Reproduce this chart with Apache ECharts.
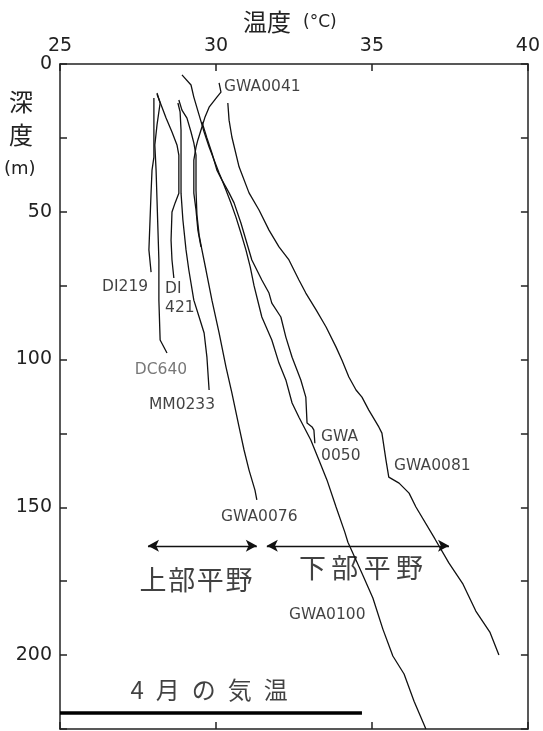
<!DOCTYPE html>
<html>
<head>
<meta charset="utf-8">
<script src="https://cdn.jsdelivr.net/npm/echarts@6/dist/echarts.min.js"></script>
<style>
  html, body { margin: 0; padding: 0; background: #fff; }
  #chart { width: 543px; height: 731px; }
</style>
</head>
<body>
<div id="chart"></div>
<script>
// Well temperature profiles: [temperature °C, depth m]
const GWA0041 = [[30.10,6.4],[30.16,9.5],[30.03,11.2],[29.78,14.6],[29.65,17.9],[29.55,21.3],[29.42,25.7],[29.36,28.1],[29.29,32.5],[29.29,43.7],[29.36,49.4],[29.42,56.2],[29.52,61.9]];
const GWA0076 = [[28.81,12.2],[28.91,15.6],[29.07,18.3],[29.20,23.0],[29.29,26.7],[29.36,30.8],[29.36,42.6],[29.39,51.1],[29.46,57.9],[29.55,62.9],[29.68,69.7],[29.87,79.9],[30.10,91.0],[30.32,102.5],[30.51,111.3],[30.74,122.8],[30.90,130.6],[31.06,137.4],[31.25,144.2],[31.31,147.5]];
const GWA0050 = [[29.55,19.6],[29.71,25.0],[29.87,30.1],[30.03,35.9],[30.19,39.2],[30.42,43.6],[30.58,47.0],[30.80,53.8],[31.15,66.3],[31.47,73.1],[31.70,77.5],[31.79,80.9],[32.08,85.6],[32.24,92.4],[32.44,99.2],[32.72,106.9],[32.88,112.7],[32.92,121.5],[33.08,122.8],[33.14,123.9],[33.17,128.3]];
const GWA0100 = [[28.91,3.7],[29.20,7.1],[29.29,11.2],[29.46,17.3],[29.62,23.0],[29.78,28.1],[29.94,32.5],[30.10,36.9],[30.19,39.2],[30.32,42.6],[30.48,47.0],[30.64,51.8],[30.80,57.2],[30.96,62.9],[31.10,68.7],[31.22,75.0],[31.47,85.6],[31.79,93.4],[32.02,101.2],[32.24,106.9],[32.44,114.7],[32.66,119.5],[33.04,127.2],[33.30,134.0],[33.56,140.8],[33.85,149.9],[34.13,158.4],[34.23,161.8],[34.68,172.3],[35.03,180.7],[35.35,191.2],[35.67,200.3],[36.03,206.4],[36.35,215.6],[36.73,225.0]];
const GWA0081 = [[30.38,13.2],[30.42,19.0],[30.51,24.7],[30.74,34.8],[31.06,43.6],[31.38,49.4],[31.70,56.2],[32.02,61.9],[32.34,66.3],[32.66,73.1],[32.88,77.5],[33.21,83.2],[33.53,89.0],[33.85,95.8],[34.04,100.2],[34.26,105.9],[34.49,110.3],[34.68,112.7],[34.90,117.1],[35.22,122.8],[35.32,124.9],[35.45,134.0],[35.54,139.8],[35.87,141.8],[36.19,145.2],[36.41,149.9],[37.02,160.7],[37.47,168.9],[37.92,176.0],[38.33,185.1],[38.78,192.2],[39.07,200.0]];
const MM0233 = [[28.78,13.2],[28.85,16.2],[28.88,22.3],[28.88,43.7],[28.94,52.8],[29.04,62.9],[29.13,69.7],[29.29,79.9],[29.46,85.6],[29.62,91.0],[29.71,99.2],[29.78,110.3]];
const DI421  = [[28.11,10.2],[28.27,14.6],[28.40,18.3],[28.59,23.0],[28.75,27.4],[28.81,30.8],[28.81,43.7],[28.69,47.0],[28.59,50.1],[28.56,59.6],[28.59,66.3],[28.65,72.4]];
const DC640  = [[28.11,9.8],[28.21,13.2],[28.11,20.6],[28.04,27.4],[28.08,35.9],[28.11,46.0],[28.14,56.2],[28.17,66.3],[28.17,79.9],[28.21,93.4],[28.43,97.8]];
const DI219  = [[28.01,11.5],[28.01,31.5],[27.95,35.9],[27.92,43.3],[27.85,62.9],[27.92,70.4]];

const profileNames = ['GWA0041','GWA0076','GWA0050','GWA0100','GWA0081','MM0233','DI421','DC640','DI219'];
const profiles = [GWA0041, GWA0076, GWA0050, GWA0100, GWA0081, MM0233, DI421, DC640, DI219];

// Annotation texts and where they sit: [temperature, depth]
const noteTexts = ['GWA0041','DI219','DI\n421','DC640','MM0233','GWA\n0050','GWA0081','GWA0076','GWA0100'];
const notePos   = [[30.26,7.8],[26.35,75.5],[28.37,79.5],[27.40,103.6],[27.85,115.4],[33.37,129.3],[35.71,136.0],[30.16,153.3],[32.34,186.5]];
const noteColors = ['#111','#111','#111','#555','#111','#111','#111','#111','#111'];

// Aquifer ranges (arrows) at depth 163 m
const arrowDepth = 163;
const upperRange = [27.82, 31.31];
const lowerRange = [31.63, 37.47];
const zoneTexts = ['上\u200A部\u200A平\u200A野', '下\u2009部\u2009平\u2009野'];
const zonePos = [[29.36,174.6],[34.65,170.6]];

// April air temperature bar
const airTemp = [[25, 219.6],[34.68, 219.6]];
const airText = '4\u2002月\u2002の\u2002気\u2002温';
const airTextPos = [29.78, 211.8];

const xTicks = [25, 30, 35, 40];
const yTicks = [0, 50, 100, 150, 200];

const chart = echarts.init(document.getElementById('chart'), null, { renderer: 'canvas' });

const lineSeries = profiles.map((d, i) => ({
  name: profileNames[i],
  type: 'line',
  data: d,
  symbol: 'none',
  smooth: false,
  lineStyle: { color: '#111', width: 1.3 },
  z: 3,
  silent: true
}));

const noteSeries = {
  type: 'scatter',
  symbolSize: 0,
  silent: true,
  data: noteTexts.map((t, i) => ({
    value: notePos[i],
    label: {
      show: true, formatter: t, position: 'right', distance: 0,
      color: noteColors[i], fontSize: 15.5, lineHeight: 19,
      fontFamily: 'DejaVu Sans', align: 'left', verticalAlign: 'middle'
    }
  })),
  z: 5
};

const zoneSeries = {
  type: 'scatter',
  symbolSize: 0,
  silent: true,
  data: zoneTexts.map((t, i) => ({
    value: zonePos[i],
    label: {
      show: true, formatter: t, position: 'inside',
      color: '#111', fontSize: 27, fontFamily: 'Noto Sans CJK JP'
    }
  })),
  z: 5
};

const airSeries = [{
  type: 'line',
  data: airTemp,
  symbol: 'none',
  lineStyle: { color: '#000', width: 3.5 },
  silent: true, z: 4
}, {
  type: 'scatter',
  symbolSize: 0,
  silent: true,
  data: [{ value: airTextPos, label: { show: true, formatter: airText, position: 'inside', color: '#111', fontSize: 24, fontFamily: 'Noto Sans CJK JP' } }]
}];

const arrowSeries = {
  type: 'line',
  data: [],
  silent: true,
  markLine: {
    silent: true,
    symbol: ['arrow', 'arrow'],
    symbolSize: [9, 11],
    label: { show: false },
    lineStyle: { color: '#111', width: 1.4, type: 'solid' },
    data: [
      [{ coord: [upperRange[0], arrowDepth] }, { coord: [upperRange[1], arrowDepth] }],
      [{ coord: [lowerRange[0], arrowDepth] }, { coord: [lowerRange[1], arrowDepth] }]
    ]
  }
};

const axisFont = { fontSize: 19, fontFamily: 'DejaVu Sans', color: '#222' };

chart.setOption({
  animation: false,
  backgroundColor: '#fff',
  grid: { left: 60, top: 64, width: 469, height: 665 },
  title: {
    text: '{a|温度}{b|(°C)}',
    left: 238, top: 5,
    textStyle: {
      fontWeight: 'normal',
      rich: {
        a: { fontSize: 24, fontFamily: 'Noto Sans CJK JP', color: '#222', fontWeight: 'normal' },
        b: { fontSize: 17, fontFamily: 'DejaVu Sans', color: '#222', fontWeight: 'normal', padding: [2, 0, 0, 12] }
      }
    }
  },
  graphic: [{
    type: 'text', left: 9, top: 85,
    style: { text: '深\n度', fontSize: 24, lineHeight: 33, fontFamily: 'Noto Sans CJK JP', fill: '#222' }
  }, {
    type: 'text', left: 4, top: 160,
    style: { text: '(m)', fontSize: 18, fontFamily: 'DejaVu Sans', fill: '#222' }
  }],
  xAxis: [{
    type: 'value', position: 'top', min: 25, max: 40, interval: 5,
    axisLine: { show: true, lineStyle: { color: '#222', width: 1.5 } },
    axisTick: { show: true, inside: true, length: 7, lineStyle: { color: '#222', width: 1.5 } },
    axisLabel: Object.assign({ margin: 8, formatter: v => xTicks.includes(v) ? String(v) : '' }, axisFont),
    splitLine: { show: false }
  }, {
    type: 'value', position: 'bottom', min: 25, max: 40, interval: 5,
    axisLine: { show: true, onZero: false, lineStyle: { color: '#222', width: 1.5 } },
    axisTick: { show: true, inside: true, length: 7, lineStyle: { color: '#222', width: 1.5 } },
    axisLabel: { show: false },
    splitLine: { show: false }
  }],
  yAxis: [{
    type: 'value', inverse: true, position: 'left', min: 0, max: 225, interval: 25,
    axisLine: { show: true, onZero: false, lineStyle: { color: '#222', width: 1.5 } },
    axisTick: { show: true, inside: true, length: 7, lineStyle: { color: '#222', width: 1.5 } },
    axisLabel: Object.assign({ margin: 8, formatter: v => yTicks.includes(v) ? String(v) : '' }, axisFont),
    splitLine: { show: false }
  }, {
    type: 'value', inverse: true, position: 'right', min: 0, max: 225, interval: 25,
    axisLine: { show: true, onZero: false, lineStyle: { color: '#222', width: 1.5 } },
    axisTick: { show: true, inside: true, length: 7, lineStyle: { color: '#222', width: 1.5 } },
    axisLabel: { show: false },
    splitLine: { show: false }
  }],
  series: [...lineSeries, noteSeries, zoneSeries, ...airSeries, arrowSeries]
});
</script>
</body>
</html>
